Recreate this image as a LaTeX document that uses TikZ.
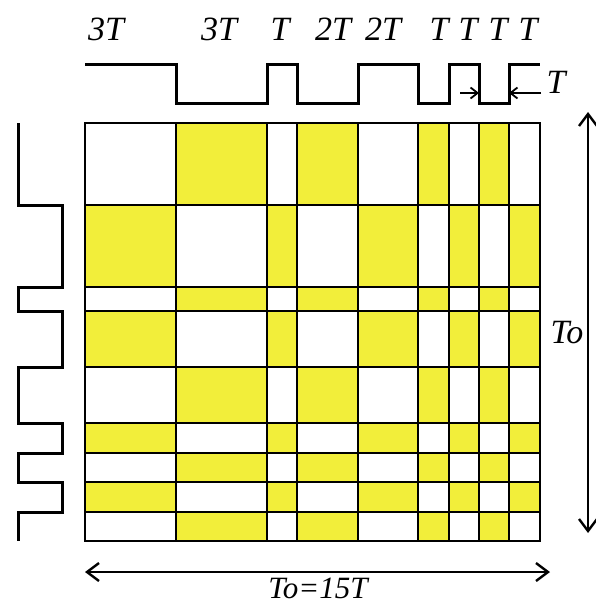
\documentclass[tikz,border=0pt]{standalone}
\usepackage{fontspec}
\setmainfont{Liberation Serif}
\usetikzlibrary{positioning, arrows.meta}
\definecolor{cellyellow}{RGB}{242,238,58}

\begin{document}
\begin{tikzpicture}[
	% One unit is one pixel of the reference, y runs downwards
	x=1pt, y=-1pt,
	% Style for the cells of the grid
	cell/.style={
		draw=black,
		line width=2.4pt
	},
	% Style for the two square waves
	wave/.style={
		line width=3pt,
		line join=miter
	},
	% Style for the duration labels
	dur/.style={
		font=\itshape\fontsize{34}{36}\selectfont,
		inner sep=0pt
	},
	% Double arrows for the period
	span/.style={
		line width=2.4pt,
		{Straight Barb[length=12pt, width=18pt]}-{Straight Barb[length=12pt, width=18pt]}
	},
	% Small arrows marking one T
	tick/.style={
		line width=1.8pt,
		-{Straight Barb[length=7pt, width=11pt]}
	}
	]
	\useasboundingbox (0,0) rectangle (595,607);
	
	% Cells of the grid, widths 3T,3T,T,2T,2T,T,T,T,T both ways
	\foreach \xa/\xb/\c in {85/176/0, 176/267/1, 267/297/2, 297/358/3, 358/418/4, 418/449/5, 449/479/6, 479/509/7, 509/540/8}{
		\foreach \ya/\yb/\r in {123/205/0, 205/287/1, 287/311/2, 311/367/3, 367/423/4, 423/453/5, 453/482/6, 482/512/7, 512/541/8}{
			\pgfmathtruncatemacro{\p}{\c+\r}
			\ifodd\p \def\cellcol{cellyellow}\else\def\cellcol{white}\fi
			\draw[cell, fill=\cellcol] (\xa,\ya) rectangle (\xb,\yb);
		}
	}
	
	% Top wave
	\draw[wave] (85,65) -| (176,104) -| (267,65) -| (297,104) -| (358,65) -| (418,104) -| (449,65) -| (479,104) -| (509,65) -- (540,65);
	% Left wave
	\draw[wave] (18,123) |- (62,205) |- (18,287) |- (62,311) |- (18,367) |- (62,423) |- (18,453) |- (62,482) |- (18,512) -- (18,541);
	
	% Labels over the top wave
	\foreach \x/\lab [count=\i] in {106/3T, 219/3T, 280/T, 333/2T, 383/2T, 439/T, 468/T, 498/T, 528/T}{
		\node[dur] (d\i) at (\x,29) {\lab};
	}
	
	% One T between two arrows
	\coordinate (tl) at (460,93);
	\coordinate (ta) at (479,93);
	\coordinate (tb) at (509,93);
	\coordinate (tr) at (541,93);
	\draw[tick] (tl) -- (ta);
	\draw[tick] (tr) -- (tb);
	\node[dur] (tone) at (556,82) {T};
	
	% Period along both sides
	\coordinate (hL) at (85,572);
	\coordinate (hR) at (550,572);
	\draw[span] (hL) -- (hR);
	\node[dur, font=\itshape\fontsize{31}{33}\selectfont] (total) at (318,588) {To=15T};
	
	\coordinate (vT) at (588,112);
	\coordinate (vB) at (588,533);
	\draw[span] (vT) -- (vB);
	\node[dur] (to) at (567,333) {To};
	
\end{tikzpicture}
\end{document}
